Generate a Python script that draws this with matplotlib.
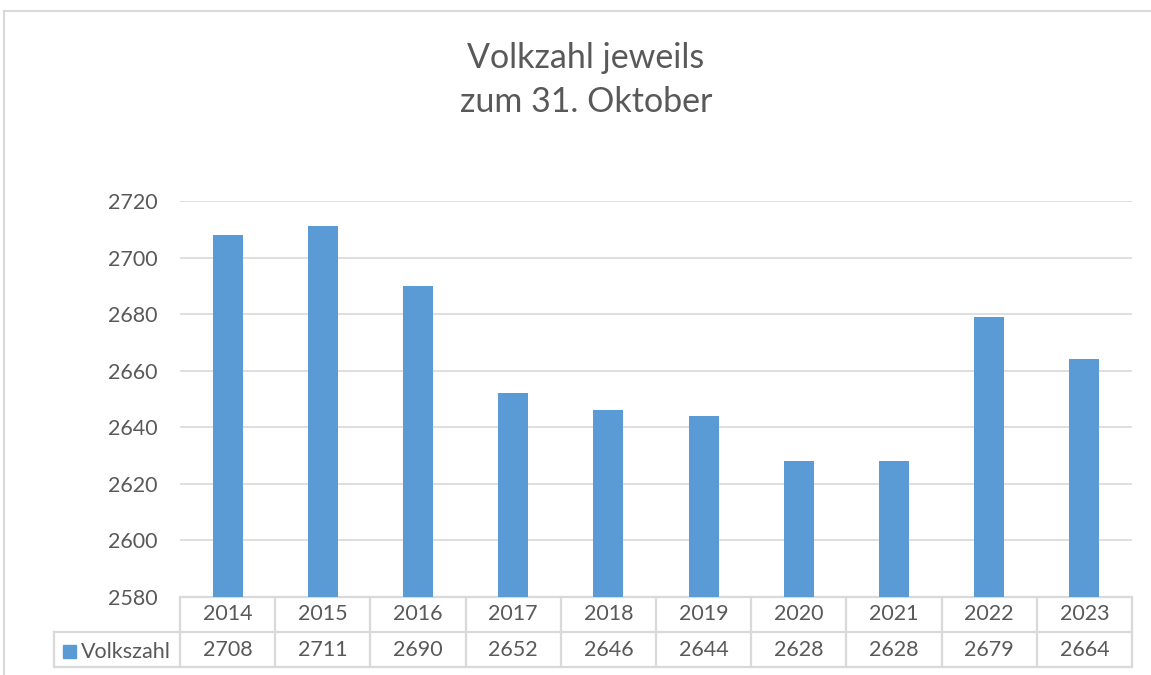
import matplotlib
matplotlib.use("Agg")
import matplotlib.pyplot as plt
from matplotlib.patches import Rectangle
from matplotlib.lines import Line2D

years = ["2014", "2015", "2016", "2017", "2018", "2019", "2020", "2021", "2022", "2023"]
values = [2708, 2711, 2690, 2652, 2646, 2644, 2628, 2628, 2679, 2664]
series_name = "Volkszahl"
title = "Volkzahl jeweils\nzum 31. Oktober"
yticks = [2580, 2600, 2620, 2640, 2660, 2680, 2700, 2720]

plt.rcParams['font.family'] = ['Lato', 'DejaVu Sans']

W, H = 1151, 675
fig = plt.figure(figsize=(W / 100, H / 100), dpi=100)
fig.patch.set_facecolor("white")

bar_color = "#5B9BD5"
grid_color = "#D9D9D9"
text_color = "#595959"

def fx(px):
    return px / W

def fy(py):
    return 1 - py / H

# outer chart border (left & top visible)
fig.add_artist(Line2D([fx(4), fx(4)], [fy(11), fy(675)], color=grid_color, lw=1.5))
fig.add_artist(Line2D([fx(4), fx(1151)], [fy(11), fy(11)], color=grid_color, lw=1.5))

left, right, top, bottom = 180, 1132, 201, 597
ax = fig.add_axes([fx(left), fy(bottom), fx(right) - fx(left), fy(top) - fy(bottom)])
x = list(range(len(years)))
ax.bar(x, values, width=0.315, color=bar_color, zorder=3)
ax.set_xlim(-0.5, len(years) - 0.5)
ax.set_ylim(yticks[0], yticks[-1])
ax.set_yticks(yticks)
ax.set_xticks([])
ax.yaxis.grid(True, color=grid_color, lw=1.2, zorder=0)
for s in ax.spines.values():
    s.set_visible(False)
fs = 15.5
ax.tick_params(axis='y', length=0, pad=16, labelsize=fs, labelcolor=text_color)

fig.text(fx(586), fy(58), "Volkzahl jeweils", ha="center", va="center", fontsize=24.5,
         color=text_color)
fig.text(fx(586), fy(102), "zum 31. Oktober", ha="center", va="center", fontsize=24.5,
         color=text_color)

# data table
row_h = 35 / (bottom - top)  # in axes fraction
tr = ax.get_xaxis_transform()
lw = 1.6
kw = dict(color=grid_color, lw=lw, clip_on=False, transform=tr, zorder=1)
n = len(years)
ax.add_line(Line2D([-0.5, n - 0.5], [0, 0], **kw))
leg_left = -0.5 - (left - 54) / ((right - left) / n)
ax.add_line(Line2D([leg_left, n - 0.5], [-row_h, -row_h], **kw))
ax.add_line(Line2D([leg_left, n - 0.5], [-2 * row_h, -2 * row_h], **kw))
for i in range(n + 1):
    ax.add_line(Line2D([i - 0.5, i - 0.5], [0, -2 * row_h], **kw))
ax.add_line(Line2D([leg_left, leg_left], [-row_h, -2 * row_h], **kw))

for i, (yr, v) in enumerate(zip(years, values)):
    ax.text(i, -0.5 * row_h, yr, transform=tr, ha="center", va="center",
            fontsize=fs, color=text_color, clip_on=False)
    ax.text(i, -1.5 * row_h, str(v), transform=tr, ha="center", va="center",
            fontsize=fs, color=text_color, clip_on=False)

# legend key in table
fig.add_artist(Rectangle((fx(63), fy(658)), fx(13), fy(645) - fy(658), color=bar_color,
                         transform=fig.transFigure))
fig.text(fx(81), fy(652), series_name, ha="left", va="center", fontsize=fs, color=text_color)

fig.savefig("out.png", dpi=100, facecolor="white")
